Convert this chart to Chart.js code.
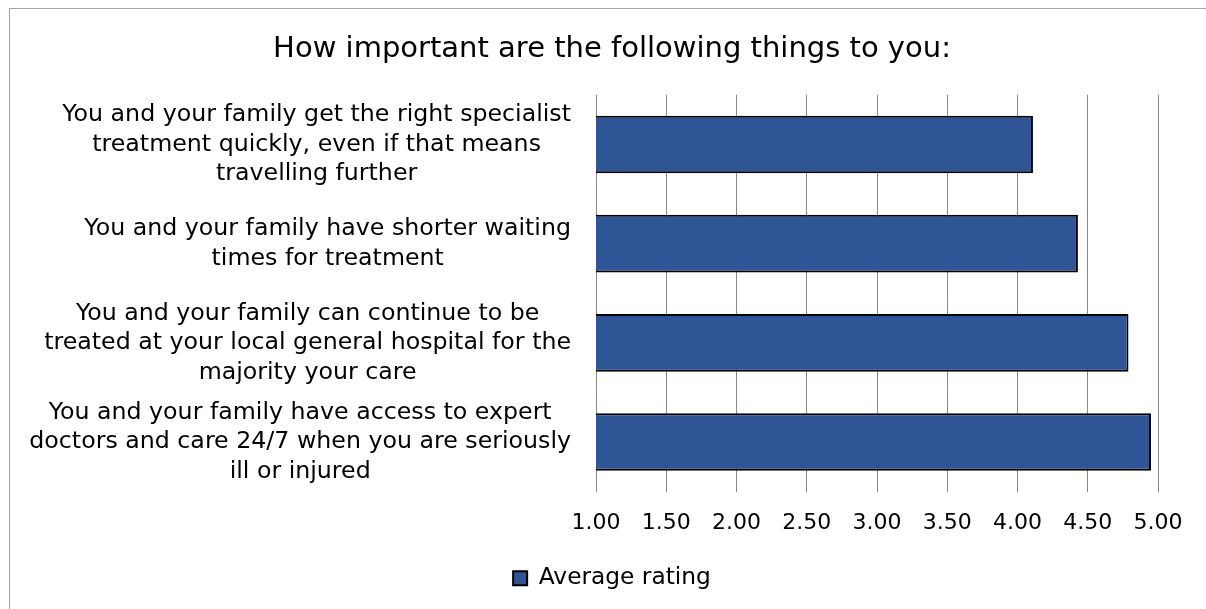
<!DOCTYPE html>
<html>
<head>
<meta charset="utf-8">
<script src="https://cdn.jsdelivr.net/npm/chart.js@4.4.0/dist/chart.umd.min.js"></script>
<style>
  html, body { margin: 0; padding: 0; overflow: hidden; background: #fff; }
  #frame { position: absolute; left: 9px; top: 8px; width: 1400px; height: 800px;
           border-left: 1px solid #a6a6a6; border-top: 1px solid #a6a6a6; }
  #wrap { position: absolute; left: 0; top: 0; width: 1224px; height: 609px; }
</style>
</head>
<body>
<div id="frame"></div>
<div id="wrap"><canvas id="myChart"></canvas></div>
<script>
// data
const categories = [
  ['You and your family get the right specialist', 'treatment quickly, even if that means', 'travelling further'],
  ['You and your family have shorter waiting', 'times for treatment'],
  ['You and your family can continue to be', 'treated at your local general hospital for the', 'majority your care'],
  ['You and your family have access to expert', 'doctors and care 24/7 when you are seriously', 'ill or injured']
];
const averageRating = [4.11, 4.43, 4.79, 4.95];
const seriesName = 'Average rating';
const xMin = 1;
const xMax = 5;
const xStep = 0.5;

const FONT = '"DejaVu Sans"';

// category labels: each block right-aligned to the axis, lines centred inside the block
const categoryLabels = {
  id: 'categoryLabels',
  afterDraw(chart) {
    const ctx = chart.ctx;
    const yScale = chart.scales.y;
    const right = chart.chartArea.left - 25;
    ctx.save();
    ctx.font = '23.7px ' + FONT;
    ctx.fillStyle = '#000';
    ctx.textAlign = 'center';
    ctx.textBaseline = 'middle';
    categories.forEach((lines, i) => {
      const widest = Math.max(...lines.map(l => ctx.measureText(l).width));
      const cx = right - widest / 2;
      const cy = yScale.getPixelForValue(i);
      lines.forEach((line, j) => {
        ctx.fillText(line, cx, cy + (j - (lines.length - 1) / 2) * 29.5);
      });
    });
    ctx.restore();
  }
};

const ctx = document.getElementById('myChart').getContext('2d');
new Chart(ctx, {
  type: 'bar',
  data: {
    labels: categories,
    datasets: [{
      label: seriesName,
      data: averageRating,
      backgroundColor: '#2F5596',
      borderColor: '#000000',
      borderWidth: 2,
      borderSkipped: false,
      categoryPercentage: 1,
      barPercentage: 0.58,
    }],
  },
  options: {
    indexAxis: 'y',
    responsive: true,
    maintainAspectRatio: false,
    animation: false,
    layout: { padding: { top: 0, left: 0, right: 0, bottom: 9 } },
    scales: {
      x: {
        min: xMin,
        max: xMax,
        position: 'bottom',
        ticks: {
          stepSize: xStep,
          padding: 18,
          color: '#000',
          font: { family: FONT, size: 22 },
          callback: v => Number(v).toFixed(2),
        },
        grid: { color: '#888888', lineWidth: 1, drawTicks: false, tickLength: 0 },
        border: { display: false },
        afterFit: s => { s.height = 65; },
      },
      y: {
        position: 'left',
        ticks: { display: false },
        grid: { display: false, drawTicks: false },
        border: { display: false },
        afterFit: s => { s.width = 596; },
      },
      yRight: {
        type: 'linear',
        position: 'right',
        ticks: { display: false },
        grid: { display: false, drawTicks: false },
        border: { display: false },
        afterFit: s => { s.width = 66; },
      },
    },
    plugins: {
      title: {
        display: true,
        text: 'How important are the following things to you:',
        color: '#000',
        font: { family: FONT, size: 29, weight: 'normal' },
        padding: { top: 32, bottom: 28 },
      },
      legend: {
        display: true,
        position: 'bottom',
        labels: {
          color: '#000',
          font: { family: FONT, size: 23.3 },
          boxWidth: 14,
          boxHeight: 14,
          padding: 10,
        },
      },
      tooltip: { enabled: false },
    },
  },
  plugins: [categoryLabels],
});
</script>
</body>
</html>
